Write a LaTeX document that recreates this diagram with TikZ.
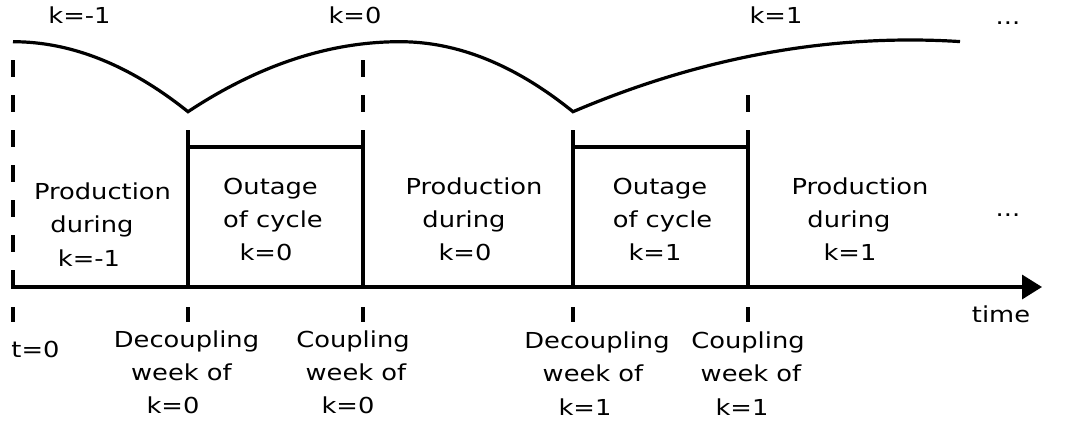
\documentclass[tikz,border=0pt]{standalone}
\usepackage{fontspec}
\setmainfont{DejaVu Sans}[FakeStretch=1.17]
\usetikzlibrary{arrows.meta}
\tikzset{
  lbl/.style={font=\fontsize{22}{33}\selectfont, inner sep=0pt, anchor=base},
  solidline/.style={line width=3.4pt},
  dashline/.style={line width=3.4pt, dash pattern=on 17pt off 18pt},
  curveline/.style={line width=3.2pt},
}
\begin{document}
\begin{tikzpicture}[x=1pt,y=-1pt]
\useasboundingbox (0,0) rectangle (1067,423);
% named points
\coordinate (a0) at (13,60);   \coordinate (b0) at (13,287);
\coordinate (a1) at (188,130); \coordinate (b1) at (188,287);
\coordinate (d2) at (363,60);  \coordinate (a2) at (363,130); \coordinate (b2) at (363,287);
\coordinate (a3) at (573,130); \coordinate (b3) at (573,287);
\coordinate (d4) at (748,95);  \coordinate (a4) at (748,130); \coordinate (b4) at (748,287);
\coordinate (r1) at (188,147); \coordinate (r2) at (363,147);
\coordinate (r3) at (573,147); \coordinate (r4) at (748,147);
\coordinate (tip) at (1042,287);
\coordinate (c0) at (13,41.7); \coordinate (v1) at (188,111.7);
\coordinate (p2) at (400,41.7); \coordinate (v3) at (573,111.7);
\coordinate (p4) at (910,40);  \coordinate (e4) at (960,41.6);
% dashed and solid verticals
\draw[dashline] (a0) -- (b0);
\draw[dashline] (d2) -- (a2);
\draw[dashline] (d4) -- (a4);
\draw[solidline] (a1) -- (b1);
\draw[solidline] (a2) -- (b2);
\draw[solidline] (a3) -- (b3);
\draw[solidline] (a4) -- (b4);
\draw[solidline] (r1) -- (r2);
\draw[solidline] (r3) -- (r4);
% axis
\draw[solidline,-{Triangle[length=20pt,width=24pt]}] ([xshift=-1.7pt]b0) -- (tip);
% ticks below
\foreach \x/\n in {13/t0,188/t1,363/t2,573/t3,748/t4}{
  \coordinate (\n u) at (\x,307); \coordinate (\n l) at (\x,322);
  \draw[solidline] (\n u) -- (\n l);
}
% curve
\draw[curveline, line join=miter]
  (c0) .. controls (71.3,41.7) and (129.7,65) .. (v1)
  .. controls (258.7,65) and (329.3,41.7) .. (p2)
  .. controls (457.7,41.7) and (515.3,65) .. (v3)
  .. controls (685.3,63.9) and (797.7,40) .. (p4)
  .. controls (926.7,40) and (943.3,40.5) .. (e4);
% top labels
\node[lbl] (km1) at (79.5,23.3) {k=-1};
\node[lbl] (k0) at (355,23.3) {k=0};
\node[lbl] (k1) at (776,23.3) {k=1};
\node[lbl] (dots1) at (1008,24) {...};
\node[lbl] (dots2) at (1008,216) {...};
% block labels
\node[lbl] (prodm1a) at (102.5,199) {Production};
\node[lbl] (prodm1b) at (92,232.5) {during};
\node[lbl] (prodm1c) at (89,266.5) {k=-1};
\node[lbl] (out0a) at (270.5,194) {Outage};
\node[lbl] (out0b) at (273,227) {of cycle};
\node[lbl] (out0c) at (266,260) {k=0};
\node[lbl] (prod0a) at (474,194) {Production};
\node[lbl] (prod0b) at (464,227) {during};
\node[lbl] (prod0c) at (465,260) {k=0};
\node[lbl] (out1a) at (660,194) {Outage};
\node[lbl] (out1b) at (662.5,227) {of cycle};
\node[lbl] (out1c) at (655,260) {k=1};
\node[lbl] (prod1a) at (860,194) {Production};
\node[lbl] (prod1b) at (849,227) {during};
\node[lbl] (prod1c) at (850,260) {k=1};
% bottom labels
\node[lbl] (t0lab) at (35.5,357) {t=0};
\node[lbl] (time) at (1001,322) {time};
\node[lbl] (dec0a) at (186.5,347) {Decoupling};
\node[lbl] (dec0b) at (181.5,380) {week of};
\node[lbl] (dec0c) at (173,413) {k=0};
\node[lbl] (cou0a) at (353,347) {Coupling};
\node[lbl] (cou0b) at (356,380) {week of};
\node[lbl] (cou0c) at (348,413) {k=0};
\node[lbl] (dec1a) at (597,348) {Decoupling};
\node[lbl] (dec1b) at (593,381.5) {week of};
\node[lbl] (dec1c) at (585,415) {k=1};
\node[lbl] (cou1a) at (748,348) {Coupling};
\node[lbl] (cou1b) at (751,381.5) {week of};
\node[lbl] (cou1c) at (742,415) {k=1};
\end{tikzpicture}
\end{document}
